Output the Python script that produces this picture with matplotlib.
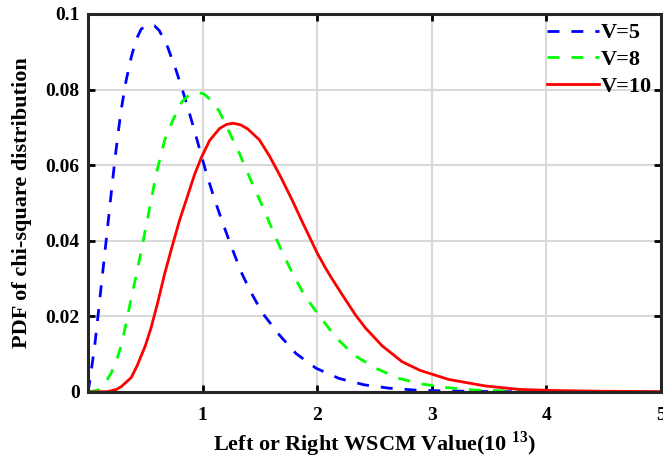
import numpy as np
import matplotlib.pyplot as plt

# valores
x_v5 = [0.0, 0.015, 0.037, 0.058, 0.087, 0.116, 0.139, 0.162, 0.19, 0.235, 0.261, 0.29, 0.333,
        0.377, 0.42, 0.464, 0.522, 0.58, 0.623, 0.696, 0.768, 0.84, 0.913, 0.974, 1.032, 1.104,
        1.18, 1.25, 1.336, 1.42, 1.525, 1.67, 1.815, 1.99, 2.19, 2.41, 2.63, 2.86, 3.09, 3.5,
        4.0, 5.0]
y_v5 = [0.0, 0.0027, 0.0075, 0.012, 0.020, 0.0282, 0.0345, 0.041, 0.049, 0.0615, 0.068, 0.0747, 0.0824,
        0.0885, 0.0932, 0.0960, 0.0972, 0.0969, 0.0956, 0.0912, 0.0852, 0.0784, 0.0709, 0.0643, 0.0580, 0.0510,
        0.0444, 0.0386, 0.0318, 0.0265, 0.0208, 0.0151, 0.0102, 0.0063, 0.0036, 0.0019, 0.0010, 0.0005, 0.0003, 0.0001,
        0.00003, 0.0]

x_v8 = [0.0, 0.087, 0.145, 0.203, 0.25, 0.29, 0.335, 0.38, 0.42, 0.464, 0.525, 0.597, 0.67,
        0.742, 0.82, 0.88, 0.957, 1.014, 1.08, 1.145, 1.22, 1.322, 1.43, 1.525, 1.61, 1.70,
        1.785, 1.887, 2.003, 2.162, 2.32, 2.51, 2.713, 2.916, 3.12, 3.38, 3.8, 4.3, 5.0]
y_v8 = [0.0, 0.0005, 0.0022, 0.0050, 0.0085, 0.0122, 0.0185, 0.0252, 0.0307, 0.0372, 0.0466, 0.0579, 0.0667,
        0.0720, 0.0768, 0.0785, 0.0793, 0.0788, 0.0770, 0.0743, 0.0696, 0.0631, 0.0554, 0.0490, 0.0429, 0.0367,
        0.0314, 0.0257, 0.0208, 0.0145, 0.0098, 0.0063, 0.0036, 0.0021, 0.0012, 0.0005, 0.0002, 0.0001, 0.0]

x_v10 = [0.0, 0.174, 0.25, 0.29, 0.33, 0.377, 0.43, 0.5, 0.551, 0.609, 0.64, 0.667, 0.728, 0.80,
         0.858, 0.93, 0.989, 1.061, 1.148, 1.21, 1.264, 1.33, 1.394, 1.496, 1.583, 1.684, 1.785,
         1.872, 1.945, 2.0, 2.075, 2.133, 2.25, 2.337, 2.423, 2.568, 2.742, 2.90, 3.15, 3.467,
         3.757, 4.05, 4.48, 5.0]
y_v10 = [0.0, 0.0001, 0.0007, 0.0014, 0.0025, 0.0038, 0.0070, 0.0122, 0.0170, 0.0237, 0.0276, 0.0310, 0.0378, 0.0455,
         0.0508, 0.0575, 0.0620, 0.0665, 0.0697, 0.0708, 0.0711, 0.0707, 0.0696, 0.0667, 0.0625, 0.0568, 0.0506,
         0.0449, 0.0403, 0.0368, 0.0327, 0.0298, 0.0243, 0.0203, 0.0169, 0.0122, 0.0080, 0.0057, 0.0033, 0.0016,
         0.0007, 0.0004, 0.0002, 0.0001]

xticks = [1, 2, 3, 4, 5]
yticks = [0, 0.02, 0.04, 0.06, 0.08, 0.1]
ytick_labels = ["0", "0.02", "0.04", "0.06", "0.08", "0.1"]

plt.rcParams['font.family'] = 'Liberation Serif'
plt.rcParams['font.weight'] = 'bold'
plt.rcParams['mathtext.fontset'] = 'custom'
plt.rcParams['mathtext.rm'] = 'Liberation Serif:bold'
plt.rcParams['mathtext.bf'] = 'Liberation Serif:bold'

fig = plt.figure(figsize=(6.63, 4.59), dpi=100)
ax = fig.add_axes([0.1327, 0.146, 0.864, 0.8235])

ax.plot(x_v5, y_v5, color=(0, 0, 1), lw=2.0, dashes=(4.3, 4.3), label="V=5")
ax.plot(x_v8, y_v8, color=(0, 1, 0), lw=2.0, dashes=(4.3, 4.3), label="V=8")
ax.plot(x_v10, y_v10, '-', color=(1, 0, 0), lw=2.0, label="V=10")

ax.set_xlim(0, 5)
ax.set_ylim(0, 0.1)
ax.set_xticks(xticks)
ax.set_yticks(yticks)
ax.set_yticklabels(ytick_labels)
ax.tick_params(direction='in', length=5, width=2, top=True, right=True, labelsize=14)
ax.tick_params(axis='x', pad=11)
ax.tick_params(axis='y', pad=6)
ax.grid(True, color='#d9d9d9', lw=1.5)
ax.set_axisbelow(True)
for s in ax.spines.values():
    s.set_linewidth(2.2)
    s.set_color('#262626')

ax.set_xlabel(r"Left or Right WSCM Value(10 $^{\mathbf{13}}$)", fontsize=16, fontweight='bold', labelpad=4)
ax.set_ylabel("PDF of chi-square distribution", fontsize=16, fontweight='bold', labelpad=10)

ax.legend(loc='upper right', frameon=False, fontsize=16, handlelength=2.3,
          borderaxespad=0.0, borderpad=0.4, labelspacing=0.28, handletextpad=0.1)

fig.savefig("out.png", dpi=100)
